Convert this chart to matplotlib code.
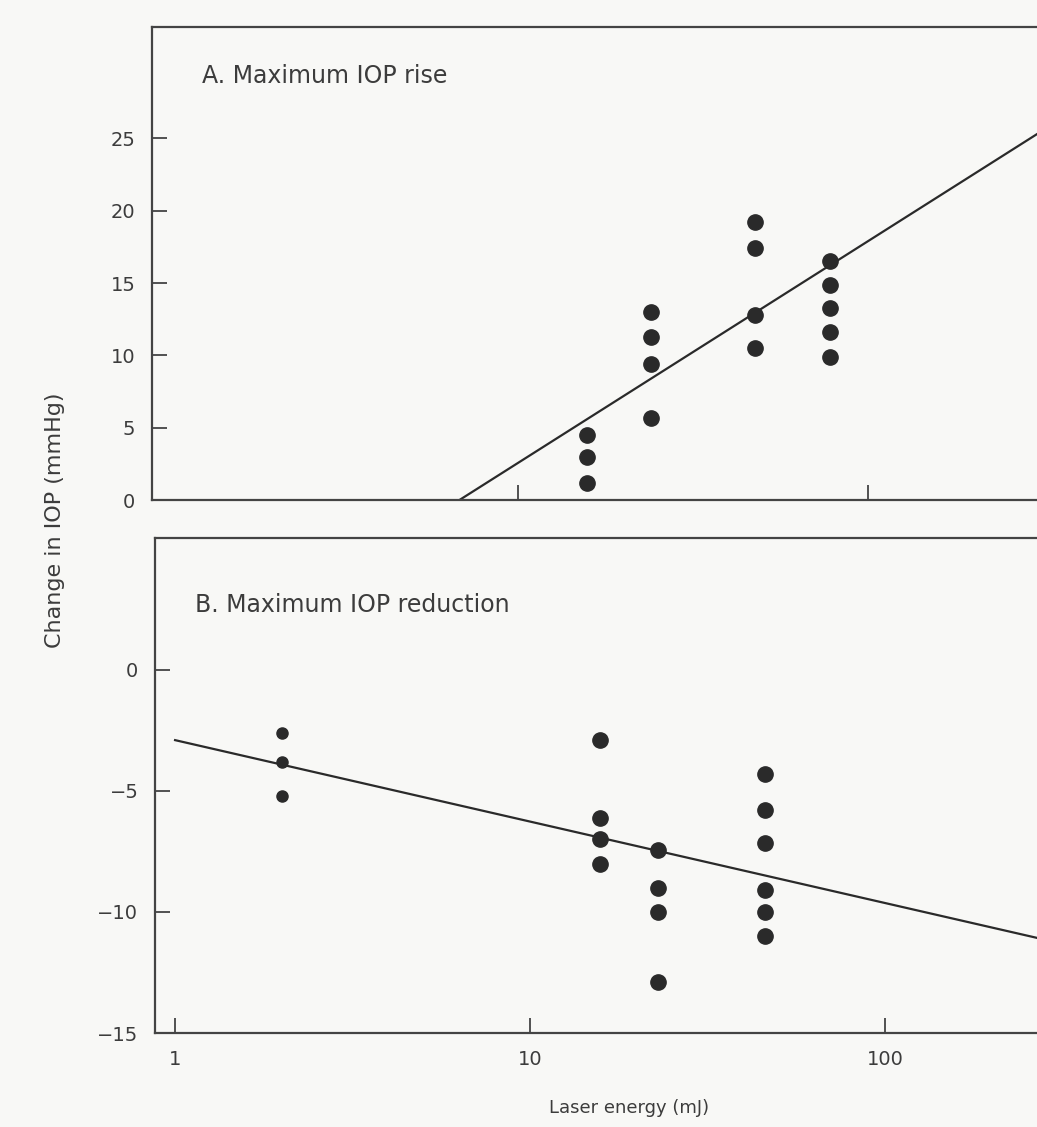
import numpy as np
import matplotlib.pyplot as plt

# panel A: maximum IOP rise
rise_energy = [15.7, 24.0, 47.5, 78.0]
rise_values = [[4.5, 3.0, 1.2],
               [13.0, 11.3, 9.4, 5.7],
               [19.2, 17.4, 12.8, 10.5],
               [16.5, 14.9, 13.3, 11.6, 9.9]]
rise_line_x = [6.8, 304.0]
rise_line_y = [0.0, 25.3]

# panel B: maximum IOP reduction
red_energy = [2.0, 15.7, 23.0, 46.0]
red_values = [[-2.6, -3.8, -5.2],
              [-2.9, -6.1, -7.0, -8.0],
              [-7.45, -9.0, -10.0, -12.9],
              [-4.3, -5.8, -7.15, -9.1, -10.0, -11.0]]
red_line_x = [1.0, 268.0]
red_line_y = [-2.9, -11.07]

rise_yticks = [0, 5, 10, 15, 20, 25]
red_yticks = [0, -5, -10, -15]
xticks = [1, 10, 100]
xticklabels = ['1', '10', '100']

bg = '#f8f8f6'
ink = '#2a2a2a'
txt = '#3c3c3c'

fig = plt.figure(figsize=(10.37, 11.27), dpi=100, facecolor=bg)
axA = fig.add_axes([0.1466, 0.5563, 0.8534, 0.4197])
axB = fig.add_axes([0.1495, 0.0834, 0.8505, 0.4392])

for ax in (axA, axB):
    ax.set_facecolor(bg)
    ax.set_xscale('log')
    ax.spines['right'].set_visible(False)
    for s in ('left', 'bottom', 'top'):
        ax.spines[s].set_color('#444444')
        ax.spines[s].set_linewidth(1.6)
    ax.tick_params(direction='in', length=11, width=1.3, color='#444444',
                   labelsize=14, labelcolor=txt, pad=12)
    ax.minorticks_off()

# top panel
for e, vals in zip(rise_energy, rise_values):
    axA.plot([e] * len(vals), vals, 'o', color=ink, ms=11, mec=ink)
axA.plot(rise_line_x, rise_line_y, color=ink, lw=1.6)
axA.set_xlim(0.9, 304)
axA.set_ylim(0, 32.7)
axA.set_yticks(rise_yticks)
axA.set_xticks([10, 100])
axA.set_xticklabels([])
axA.minorticks_off()
axA.text(0.0565, 0.896, 'A. Maximum IOP rise', transform=axA.transAxes,
         fontsize=17, color=txt, va='center')

# bottom panel
for i, (e, vals) in enumerate(zip(red_energy, red_values)):
    axB.plot([e] * len(vals), vals, 'o', color=ink, ms=8 if i == 0 else 11, mec=ink)
axB.plot(red_line_x, red_line_y, color=ink, lw=1.6)
axB.set_xlim(0.878, 268)
axB.set_ylim(-15, 5.45)
axB.set_yticks(red_yticks)
axB.set_xticks(xticks)
axB.set_xticklabels(xticklabels)
axB.minorticks_off()
axB.text(0.045, 0.865, 'B. Maximum IOP reduction', transform=axB.transAxes,
         fontsize=17, color=txt, va='center')

fig.text(0.053, 0.5386, 'Change in IOP (mmHg)', rotation=90, ha='center',
         va='center', fontsize=16, color=txt)
fig.text(0.607, 0.017, 'Laser energy (mJ)', ha='center', va='center',
         fontsize=13, color=txt)

fig.savefig('out.png', dpi=100, facecolor=bg)
